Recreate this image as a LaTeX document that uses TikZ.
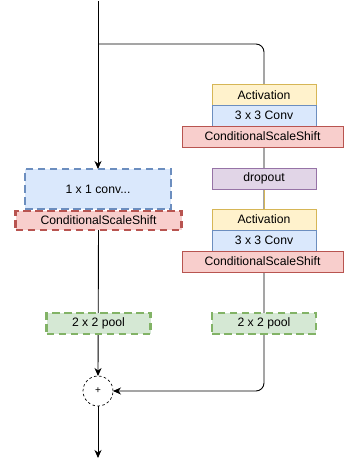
\documentclass[tikz,border=0pt]{standalone}
\usepackage{fontspec}
\setmainfont{Liberation Sans}
\usetikzlibrary{arrows.meta,backgrounds}
\definecolor{actF}{HTML}{FFF2CC}\definecolor{actD}{HTML}{D6B656}
\definecolor{convF}{HTML}{DAE8FC}\definecolor{convD}{HTML}{6C8EBF}
\definecolor{cssF}{HTML}{F8CECC}\definecolor{cssD}{HTML}{B85450}
\definecolor{dropF}{HTML}{E1D5E7}\definecolor{dropD}{HTML}{9673A6}
\definecolor{poolF}{HTML}{D5E8D4}\definecolor{poolD}{HTML}{82B366}
\begin{document}
\begin{tikzpicture}[x=1pt,y=-1pt,
  every node/.style={font=\fontsize{12.2}{14}\selectfont, inner sep=0pt, outer sep=0pt},
  box/.style={draw, line width=0.8pt, minimum height=21pt, minimum width=104pt},
  actbox/.style={box, draw=actD, fill=actF},
  convbox/.style={box, draw=convD, fill=convF},
  cssbox/.style={box, draw=cssD, fill=cssF, minimum width=161pt},
  dropbox/.style={box, draw=dropD, fill=dropF},
  dashbox/.style={line width=2.4pt, dash pattern=on 7.5pt off 4.5pt},
  poolbox/.style={box, dashbox, draw=poolD, fill=poolF},
  conn/.style={line width=0.9pt, draw=black},
  arr/.style={conn, -{Stealth[length=8pt,width=7pt,inset=2.5pt]}},
  sumnode/.style={circle, draw, line width=0.7pt, dash pattern=on 2.5pt off 2.5pt, fill=white, minimum size=30pt, font=\fontsize{10}{11}\selectfont}
]
\useasboundingbox (0,0) rectangle (344,462);
% right branch
\node[actbox] (act1) at (264,95) {Activation};
\node[convbox] (conv1) at (264,115.5) {3 x 3 Conv};
\node[cssbox] (css1) at (262.5,136.5) {ConditionalScaleShift};
\node[dropbox] (drop) at (264,178.5) {dropout};
\node[actbox] (act2) at (264,219.5) {Activation};
\node[convbox] (conv2) at (264,240.5) {3 x 3 Conv};
\node[cssbox] (css2) at (262.5,261.5) {ConditionalScaleShift};
\node[poolbox] (poolR) at (264,323.5) {2 x 2 pool};
% left branch
\node[box, dashbox, draw=convD, fill=convF, minimum width=146pt, minimum height=40pt] (conv11) at (98,189) {1 x 1 conv...};
\node[box, dashbox, draw=cssD, fill=cssF, minimum width=166pt, minimum height=19pt] (cssL) at (98.5,220.5) {ConditionalScaleShift};
\node[poolbox] (poolL) at (98.5,323.5) {2 x 2 pool};
\node[sumnode] (sum) at (98,391) {+};
\coordinate (top) at (98,1);
\coordinate (br) at (98,44);
\coordinate (bot) at (98,458);
\begin{pgfonlayer}{background}
\draw[arr] (top) -- (conv11.north);
\draw[arr] (cssL.south) -- (sum.north);
\draw[arr] (sum.south) -- (bot);
\draw[arr, rounded corners=8pt] (br) -| (poolR.center) |- (sum.east);
\draw[conn, draw=actD] (drop.south) -- (act2.north);
\end{pgfonlayer}
\end{tikzpicture}
\end{document}
